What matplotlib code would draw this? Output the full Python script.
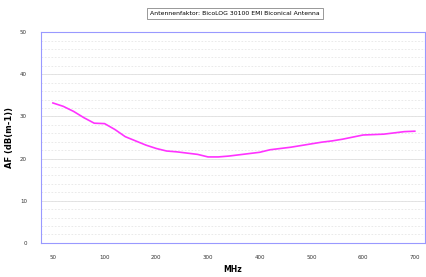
import matplotlib
matplotlib.use("Agg")
import matplotlib.pyplot as plt
import numpy as np

freqs = [50, 60, 70, 80, 90, 100,
         120, 140, 160, 180, 200, 220, 240, 260, 280, 300, 320, 340, 360, 380, 400,
         420, 440, 460, 480, 500, 520, 540, 560, 580, 600, 620, 640, 660, 680, 700]
af = [33.2, 32.4, 31.2, 29.7, 28.4, 28.3, 26.9, 25.2, 24.2, 23.2, 22.4, 21.8,
      21.6, 21.3, 21.0, 20.4, 20.4, 20.6, 20.9, 21.2, 21.5, 22.1, 22.4, 22.7,
      23.1, 23.5, 23.9, 24.2, 24.6, 25.1, 25.6, 25.7, 25.8, 26.1, 26.4, 26.5]
tick_freqs = [50, 100, 200, 300, 400, 500, 600, 700]
y_ticks = [0, 10, 20, 30, 40, 50]
title = "Antennenfaktor: BicoLOG 30100 EMI Biconical Antenna"

fig = plt.figure(figsize=(4.26, 2.77), dpi=100)
ax = fig.add_axes([0.096, 0.123, 0.902, 0.761])
x = np.arange(len(freqs))
ax.set_xlim(-1.16, 36.0)
ax.set_ylim(0, 50)

for v in np.arange(2, 50, 2):
    ax.axhline(v, color="#e6e6e6", lw=0.6, ls=(0, (2, 2)), zorder=0)
for v in y_ticks[1:-1]:
    ax.axhline(v, color="#e0e0e0", lw=0.6, zorder=0)

ax.plot(x, af, color="#ff33ff", lw=1.2)

ax.set_xticks([freqs.index(f) for f in tick_freqs])
ax.set_xticklabels([str(f) for f in tick_freqs])
ax.set_yticks(y_ticks)
ax.tick_params(axis="x", labelsize=4, length=0, pad=9, colors="#333333")
ax.tick_params(axis="y", labelsize=4, length=0, pad=10, colors="#333333")
for s in ax.spines.values():
    s.set_color("#9999ff")
    s.set_linewidth(0.8)

ax.set_xlabel("MHz", fontsize=5.5, fontweight="bold", labelpad=3)
ax.set_ylabel("AF (dB(m-1))", fontsize=6, fontweight="bold", labelpad=4)

fig.text(0.552, 0.95, title, fontsize=4.4, ha="center", va="center",
         bbox=dict(boxstyle="square,pad=0.5", fc="white", ec="#888888", lw=0.6))

fig.savefig("out.png", dpi=100)
